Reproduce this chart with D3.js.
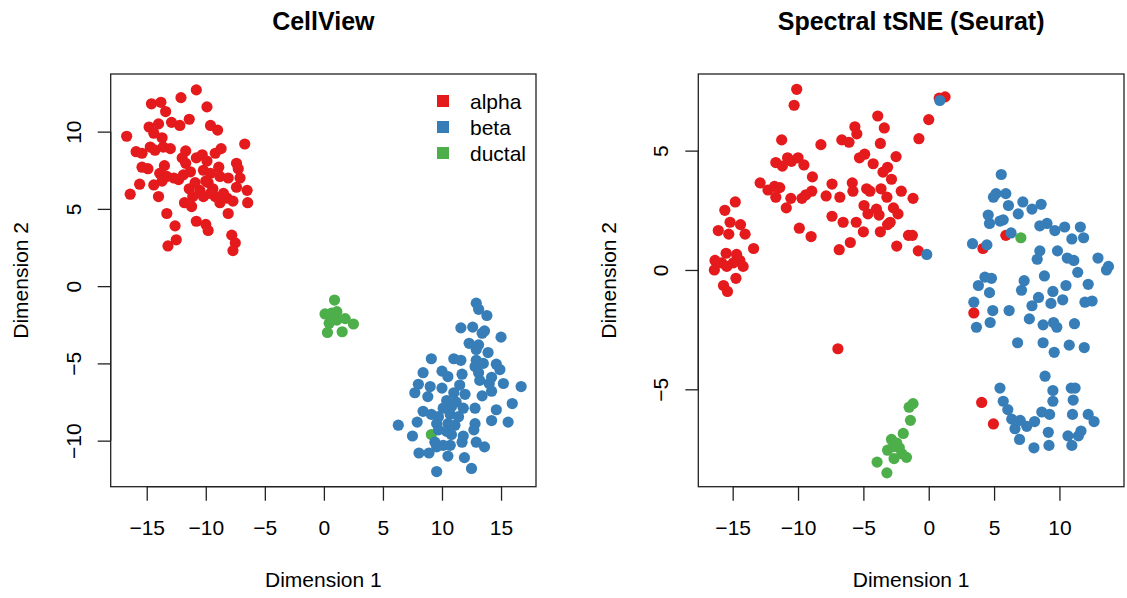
<!DOCTYPE html>
<html><head><meta charset="utf-8">
<script src="https://cdn.jsdelivr.net/npm/d3@7"></script>
<style>
html,body{margin:0;padding:0;background:#fff;}
svg{display:block;font-family:"Liberation Sans",Arial,Helvetica,sans-serif;}
</style></head><body>
<svg id="chart" width="1127" height="598"></svg>
<script>
// ---------- data (Dimension 1, Dimension 2) ----------
const categories = ["alpha", "beta", "ductal"];
const colors = ["#E41A1C", "#377EB8", "#4DAF4A"];

const cellviewAlpha = [
[-10.8,12.7],[-12.1,12.2],[-14.6,11.8],[-13.8,11.9],[-13.4,11.3],[-9.9,11.6],[-12.9,10.6],[-12.2,10.4],
[-11.4,10.8],[-9.6,10.4],[-9.0,10.1],[-14.8,10.3],[-14.0,10.5],[-16.7,9.7],[-14.4,9.9],[-13.7,9.6],
[-6.7,9.2],[-15.9,8.7],[-15.4,8.6],[-14.7,9.0],[-14.3,8.8],[-13.6,9.0],[-13.0,8.9],[-11.7,8.75],
[-12.0,8.3],[-10.8,8.3],[-10.3,8.5],[-9.2,8.6],[-8.7,8.9],[-11.7,7.95],[-11.3,7.4],[-9.9,8.1],
[-10.2,7.5],[-8.9,7.7],[-7.4,7.95],[-7.25,7.6],[-15.4,7.7],[-14.9,7.6],[-13.5,7.8],[-13.9,7.3],
[-13.3,7.1],[-12.7,7.0],[-14.4,6.55],[-15.6,6.6],[-13.7,6.8],[-16.4,5.95],[-14.0,5.8],[-11.4,6.3],
[-10.5,6.2],[-9.8,6.7],[-9.4,6.3],[-9.6,7.3],[-8.8,7.1],[-8.1,7.0],[-7.1,7.0],[-7.4,6.4],
[-6.5,6.2],[-11.8,5.4],[-11.1,5.8],[-11.2,5.15],[-10.2,5.8],[-9.2,5.8],[-8.8,5.4],[-8.2,5.7],
[-7.7,5.5],[-6.45,5.4],[-8.1,4.7],[-13.3,4.7],[-12.6,3.9],[-10.8,4.2],[-10.0,4.0],[-9.8,3.6],
[-12.5,3.0],[-13.2,2.6],[-7.8,3.3],[-7.5,2.8],[-7.7,2.3],[-10.0,6.8],[-10.9,6.7],[-9.6,6.0],
[-8.5,6.0],[-11.9,7.2],[-12.3,6.9]
];
const cellviewBeta = [
[12.9,-1.1],[13.1,-1.5],[13.8,-1.9],[11.6,-2.7],[12.6,-2.65],[13.4,-3.05],[13.6,-2.9],[15.0,-3.3],
[12.3,-3.7],[13.1,-3.8],[12.9,-4.1],[13.9,-4.3],[9.1,-4.7],[11.0,-4.7],[11.6,-4.8],[12.9,-4.8],
[12.8,-5.2],[13.5,-5.0],[14.6,-5.05],[14.9,-5.4],[8.4,-5.6],[10.0,-5.5],[10.5,-5.85],[11.7,-5.7],
[13.1,-5.6],[13.2,-6.1],[14.2,-5.9],[14.0,-6.3],[15.2,-6.3],[16.7,-6.5],[8.0,-6.35],[7.7,-6.9],
[9.0,-6.5],[8.8,-7.15],[10.0,-6.6],[11.5,-6.4],[11.0,-6.9],[11.95,-7.0],[13.4,-7.1],[14.2,-6.8],
[10.4,-7.4],[11.2,-7.5],[10.8,-7.8],[10.1,-7.9],[11.8,-7.9],[12.8,-7.9],[8.4,-8.1],[9.1,-8.3],
[9.7,-8.45],[10.7,-8.3],[11.4,-8.45],[14.6,-8.0],[15.95,-7.6],[6.3,-9.0],[7.9,-8.8],[9.55,-8.9],
[10.5,-8.9],[11.1,-9.0],[12.8,-8.9],[12.7,-9.3],[14.2,-8.7],[15.6,-8.8],[7.5,-9.7],[9.7,-9.3],
[10.4,-9.4],[10.8,-9.6],[11.8,-9.7],[11.7,-10.1],[9.4,-10.1],[9.55,-10.4],[10.1,-10.3],[10.7,-10.3],
[12.9,-10.1],[13.6,-10.4],[8.05,-10.8],[8.9,-10.8],[10.5,-11.0],[11.9,-11.1],[9.55,-12.0],[12.5,-11.8]
];
const cellviewDuctal = [
[0.9,-0.9],[0.1,-1.8],[0.65,-1.75],[1.1,-1.65],[0.45,-2.4],[1.8,-2.1],[2.5,-2.45],[0.3,-3.0],
[1.55,-2.95],[1.1,-2.2],[0.65,-2.1],[9.1,-9.6]
];

const seuratAlpha = [
[-10.1,7.57],[-10.3,6.9],[-11.25,5.45],[-8.25,5.25],[-11.7,4.5],[-11.2,4.35],[-10.8,4.7],[-10.5,4.55],
[-10.0,4.7],[-9.55,4.4],[-8.9,3.9],[-7.4,3.6],[-12.9,3.65],[-12.3,3.35],[-11.8,3.5],[-11.4,3.45],
[-11.7,3.05],[-10.55,3.0],[-10.9,2.6],[-9.7,3.0],[-9.4,3.15],[-8.95,3.3],[-7.85,3.1],[-7.4,2.25],
[-9.9,1.75],[-9.0,1.4],
[-14.8,2.85],[-15.6,2.5],[-15.2,2.0],[-14.4,1.9],[-16.1,1.65],[-15.3,1.5],[-14.05,1.5],[-13.4,0.9],
[-15.5,0.7],[-16.35,0.4],[-15.85,0.3],[-14.7,0.65],[-14.45,0.4],[-14.2,0.15],[-14.95,0.3],[-16.4,0.0],
[-15.45,0.15],[-14.75,-0.35],[-15.7,-0.65],[-15.4,-0.9],
[0.8,7.2],[1.25,7.25],[-3.9,6.45],[0.0,6.3],[-5.65,6.0],[-5.5,5.7],[-3.4,5.95],[-6.65,5.45],
[-6.1,5.35],[-3.7,5.3],[-0.75,5.5],[-5.3,4.7],[-4.9,4.85],[-4.25,4.45],[-2.5,4.75],[-3.15,4.3],
[-3.5,4.1],[-2.85,3.8],[-5.85,3.65],[-5.8,3.3],[-4.75,3.4],[-4.5,3.3],[-3.65,3.4],[-3.2,3.05],
[-2.1,3.3],[-1.2,3.0],[-6.8,3.05],[-4.95,2.7],[-4.65,2.35],[-4.0,2.55],[-3.8,2.3],[-2.7,2.6],
[-2.35,2.35],[-2.95,2.0],[-3.15,1.9],[-6.55,2.0],[-5.55,2.0],[-5.0,1.6],[-3.7,1.6],[-6.0,1.15],
[-6.85,0.85],[-2.45,1.0],[-1.55,1.45],[-1.25,1.45],[-0.8,0.8],
[-6.95,-3.3],[5.9,1.45],[4.15,0.9],[3.45,-1.8],[4.05,-5.55],[4.95,-6.45]
];
const seuratBeta = [
[-0.15,0.65],[0.85,7.1],
[5.55,4.0],[5.15,3.2],[4.95,3.05],[5.9,3.2],[6.1,2.7],[7.2,2.85],[7.9,2.55],[8.6,2.75],
[6.85,2.35],[4.55,2.3],[4.65,1.95],[5.45,2.05],[5.7,2.1],[8.5,1.85],[9.05,1.95],[9.65,1.65],
[10.4,1.8],[11.6,1.8],[10.95,1.3],[11.85,1.35],[6.3,1.55],[3.35,1.1],[4.45,1.05],[8.5,0.8],
[8.3,0.45],[9.85,0.8],[10.6,0.5],[11.1,0.4],[12.95,0.5],[13.75,0.15],[13.6,0.0],[11.4,-0.1],
[8.85,-0.25],[4.3,-0.3],[4.8,-0.35],[3.8,-0.65],[4.65,-0.95],[7.3,-0.45],[7.1,-0.85],[9.5,-0.9],
[10.5,-0.65],[12.2,-0.6],[8.4,-1.15],[7.9,-1.5],[9.35,-1.4],[10.25,-1.25],[11.95,-1.35],[12.5,-1.3],
[3.45,-1.35],[4.9,-1.7],[6.15,-1.7],[7.7,-2.05],[4.7,-2.2],[3.65,-2.4],[8.75,-2.3],[9.55,-2.2],
[9.8,-2.4],[11.15,-2.25],[6.8,-3.05],[8.75,-3.05],[9.6,-3.45],[10.75,-3.15],[11.9,-3.25],
[8.9,-4.45],[5.45,-4.95],[5.7,-5.5],[6.05,-5.85],[6.35,-6.25],[6.6,-6.65],[7.0,-6.3],[7.5,-6.55],
[8.1,-6.35],[6.95,-7.1],[8.05,-7.45],[9.5,-5.05],[9.5,-5.5],[8.65,-5.95],[9.25,-6.05],[9.15,-6.8],
[9.2,-7.35],[10.9,-4.95],[11.2,-4.95],[11.05,-5.45],[11.0,-6.05],[12.2,-6.05],[12.65,-6.35],[11.65,-6.75],
[11.45,-6.95],[10.65,-6.95],[10.95,-7.35]
];
const seuratDuctal = [
[7.05,1.35],
[-1.2,-5.6],[-1.5,-5.75],[-1.4,-6.3],[-1.95,-6.85],[-2.85,-7.1],[-2.45,-7.25],[-2.25,-7.45],[-3.15,-7.55],
[-2.65,-7.9],[-1.7,-7.85],[-3.95,-8.05],[-3.2,-8.5],[-2.05,-7.7],[-2.7,-7.4]
];

const leftXTicks = [-15,-10,-5,0,5,10,15];
const leftYTicks = [-10,-5,0,5,10];
const rightXTicks = [-15,-10,-5,0,5,10];
const rightYTicks = [-5,0,5];

// ---------- drawing ----------
const svg = d3.select("#chart");
svg.append("rect").attr("width",1127).attr("height",598).attr("fill","#fff");

const panels = [
  {title:"CellView", x0:110.7, x1:536, y0:74, y1:486.7,
   xd:[-18.05,17.96], yd:[-12.98,13.73], xt:leftXTicks, yt:leftYTicks,
   series:[cellviewAlpha, cellviewDuctal, cellviewBeta], cols:[colors[0],colors[2],colors[1]], legend:true},
  {title:"Spectral tSNE (Seurat)", x0:698.3, x1:1124, y0:74, y1:486.7,
   xd:[-17.63,14.94], yd:[-9.08,8.21], xt:rightXTicks, yt:rightYTicks,
   series:[seuratAlpha, seuratDuctal, seuratBeta], cols:[colors[0],colors[2],colors[1]], legend:false}
];

const fmt = d3.format("d");
const axisCol = "#222";

panels.forEach(p => {
  const x = d3.scaleLinear().domain(p.xd).range([p.x0, p.x1]);
  const y = d3.scaleLinear().domain(p.yd).range([p.y1, p.y0]);
  const g = svg.append("g");

  // points
  p.series.forEach((s,i) => {
    g.append("g").selectAll("circle").data(s).join("circle")
      .attr("cx", d => x(d[0])).attr("cy", d => y(d[1]))
      .attr("r", 5.6).attr("fill", p.cols[i]);
  });

  // box
  g.append("rect").attr("x",p.x0).attr("y",p.y0)
    .attr("width",p.x1-p.x0).attr("height",p.y1-p.y0)
    .attr("fill","none").attr("stroke",axisCol).attr("stroke-width",1.3);

  // x axis
  const xa = d3.axisBottom(x).tickValues(p.xt).tickSize(14).tickPadding(19).tickFormat(fmt);
  const gx = g.append("g").attr("transform",`translate(0,${p.y1})`).call(xa);
  gx.select(".domain").attr("d", `M${x(p.xt[0])},0H${x(p.xt[p.xt.length-1])}`).attr("stroke",axisCol).attr("stroke-width",1.3);
  gx.selectAll(".tick line").attr("stroke",axisCol).attr("stroke-width",1.3);
  gx.selectAll(".tick text").attr("font-size",21).attr("font-family","Liberation Sans, Arial, sans-serif").attr("fill","#000");

  // y axis
  const ya = d3.axisLeft(y).tickValues(p.yt).tickSize(13).tickPadding(0).tickFormat(fmt);
  const gy = g.append("g").attr("transform",`translate(${p.x0},0)`).call(ya);
  gy.select(".domain").attr("d", `M0,${y(p.yt[0])}V${y(p.yt[p.yt.length-1])}`).attr("stroke",axisCol).attr("stroke-width",1.3);
  gy.selectAll(".tick line").attr("stroke",axisCol).attr("stroke-width",1.3);
  gy.selectAll(".tick text")
    .attr("x",null).attr("dy",null)
    .attr("transform","translate(-30,0) rotate(-90)")
    .attr("text-anchor","middle")
    .attr("font-size",21).attr("font-family","Liberation Sans, Arial, sans-serif").attr("fill","#000");

  const cx = (p.x0+p.x1)/2, cy = (p.y0+p.y1)/2;
  // title
  g.append("text").attr("x",cx).attr("y",30).attr("text-anchor","middle")
    .attr("font-size",25).attr("font-weight","bold").text(p.title);
  // axis titles
  g.append("text").attr("x",cx).attr("y",586.5).attr("text-anchor","middle")
    .attr("font-size",21).text("Dimension 1");
  g.append("text").attr("transform",`translate(${p.x0-82.5},${cy}) rotate(-90)`).attr("text-anchor","middle")
    .attr("font-size",21).text("Dimension 2");

  if (p.legend) {
    const lg = g.append("g");
    categories.forEach((c,i) => {
      const ly = 101 + i*26;
      lg.append("rect").attr("x",437).attr("y",ly-6).attr("width",12).attr("height",12).attr("fill",colors[i]);
      lg.append("text").attr("x",470).attr("y",ly+7.5).attr("font-size",21).text(c);
    });
  }
});
</script>
</body></html>
